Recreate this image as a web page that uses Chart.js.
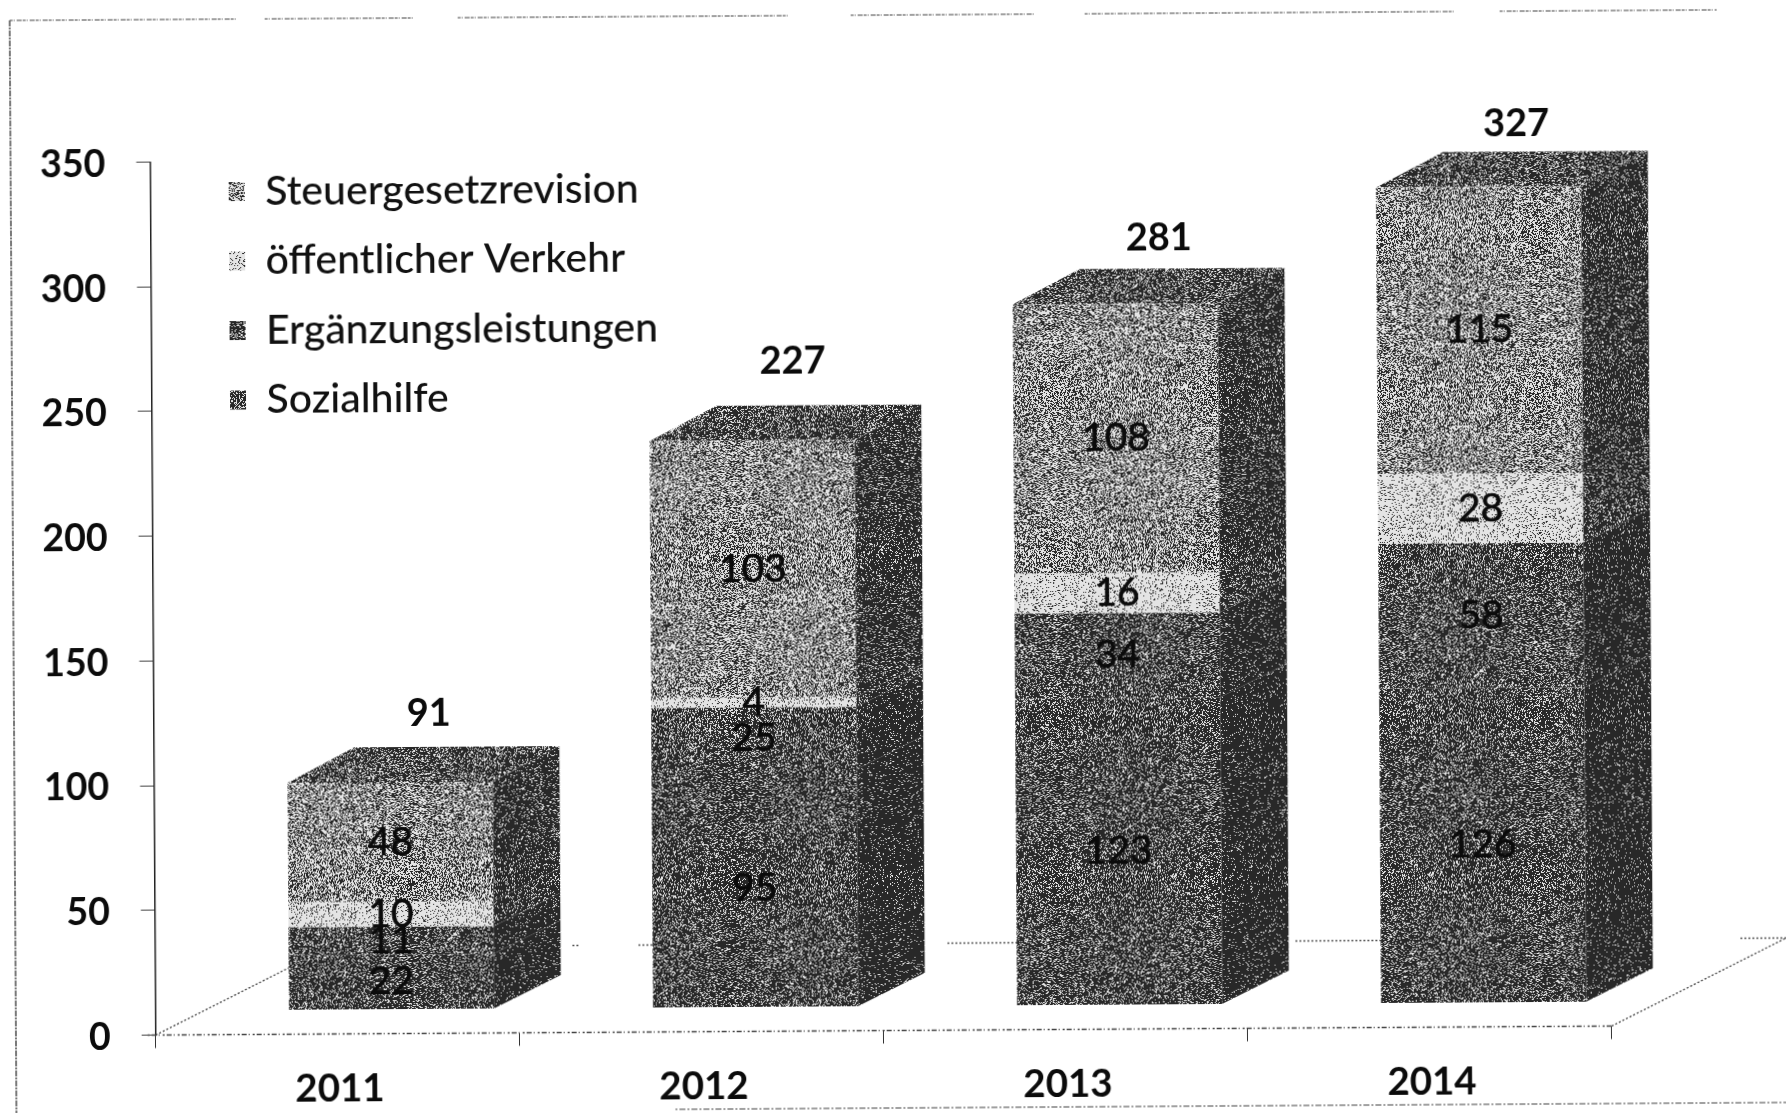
<!DOCTYPE html>
<html><head><meta charset="utf-8">
<style>
html,body{margin:0;padding:0;background:#fff;overflow:hidden;width:1786px;height:1113px}
canvas{display:block;transform:rotate(-0.355deg);transform-origin:893px 556.5px}
</style>
<script src="https://cdn.jsdelivr.net/npm/chart.js@4/dist/chart.umd.min.js"></script>
</head><body>
<canvas id="c" width="1786" height="1113"></canvas>
<script>
const years = ['2011','2012','2013','2014'];
const sozialhilfe = [22,95,123,126];
const ergaenzung = [11,25,34,58];
const verkehr = [10,4,16,28];
const steuer = [48,103,108,115];
const totals = [91,227,281,327];
const seriesNames = ['Sozialhilfe','Ergänzungsleistungen','öffentlicher Verkehr','Steuergesetzrevision'];
const seriesValues = [sozialhilfe,ergaenzung,verkehr,steuer];

// Look of the 3D scan
const frontGrey = [86,90,200,140];
const sideGrey = [56,58,76,70];
const topGrey = 92;
const floorLift = 9.8;
const barShift = 54;
const depthX = 67, depthY = -33, topExtra = -2;
const totalLift = [68,79,65,63];
const totalShift = [39,41,44,38];
const topRuns = [[13,240],[268,416],[461,792],[854,1037],[1088,1458],[1503,1720]];
const backRuns = [[570,578],[636,650],[945,1015],[1293,1380],[1738,1790]];
const FONT = 'Lato, Carlito, sans-serif';

function noisePattern(grey, seed){
  const n = 257, cv = document.createElement('canvas');
  cv.width = cv.height = n;
  const g = cv.getContext('2d'), im = g.createImageData(n,n);
  let s = seed >>> 0;
  const lo = 40, hi = 228, frac = (grey-lo)/(hi-lo);
  for(let i=0;i<n*n;i++){
    s = (Math.imul(s,1664525)+1013904223)>>>0;
    const v = ((s>>>8)&0xffff)/65535 < frac ? hi : lo;
    im.data[i*4]=im.data[i*4+1]=im.data[i*4+2]=v; im.data[i*4+3]=255;
  }
  g.putImageData(im,0,0);
  return document.getElementById('c').getContext('2d').createPattern(cv,'repeat');
}
const frontPat = frontGrey.map((g,i)=>noisePattern(g,101+i*37));
const sidePat = sideGrey.map((g,i)=>noisePattern(g,701+i*53));
const topPat = noisePattern(topGrey,1999);

let run = years.map(()=>floorLift);
const datasets = seriesNames.map((name,k)=>{
  const data = seriesValues[k].map((v,i)=>{const r=[run[i],run[i]+v]; run[i]+=v; return r;});
  return {label:name,data,backgroundColor:frontPat[k],borderWidth:0,grouped:false,
          barPercentage:1,categoryPercentage:0.563};
});

const cube = {
  id:'cube',
  afterDatasetsUpdate(chart){
    chart.data.datasets.forEach((d,k)=>chart.getDatasetMeta(k).data.forEach(el=>{el.x+=barShift;}));
    const L = chart.legend;
    L.left = 202.5; L.right = 720; L.top = 138.4; L.bottom = 470;
  },
  beforeDatasetsDraw(chart){
    const c = chart.ctx, a = chart.chartArea;
    const last = chart.data.datasets.length-1;
    c.save();
    // floor and back edge
    c.strokeStyle='#444'; c.lineWidth=1.3;
    c.setLineDash([2,2,5,2,1,3]);
    c.beginPath(); c.moveTo(a.left-8,a.bottom); c.lineTo(a.right,a.bottom); c.stroke();
    c.setLineDash([2,2]);
    c.beginPath(); c.moveTo(a.left,a.bottom); c.lineTo(a.left+175,a.bottom-87);
    c.moveTo(a.right,a.bottom); c.lineTo(a.right+175,a.bottom-87); c.stroke();
    c.strokeStyle='#555';
    c.beginPath();
    backRuns.forEach(r=>{c.moveTo(r[0],a.bottom-87); c.lineTo(r[1],a.bottom-87);});
    c.stroke();
    // scan frame
    c.strokeStyle='#222'; c.lineWidth=1.2; c.setLineDash([6,1,2,1]);
    c.beginPath(); c.moveTo(13,15); c.lineTo(13,1113); c.stroke();
    c.strokeStyle='#444'; c.setLineDash([3,1,1,2,5,1]);
    c.beginPath();
    topRuns.forEach(r=>{c.moveTo(r[0],15); c.lineTo(r[1],15);});
    c.stroke();
    c.setLineDash([2,2,6,2]);
    c.beginPath(); c.moveTo(672,1108); c.lineTo(1786,1108); c.stroke();
    c.setLineDash([]);
    // depth faces
    chart.data.datasets.forEach((d,k)=>{
      chart.getDatasetMeta(k).data.forEach(el=>{
        const r = el.x+el.width/2;
        const up = k===last ? topExtra : 0;
        c.fillStyle = sidePat[k];
        c.beginPath(); c.moveTo(r,el.y); c.lineTo(r+depthX,el.y+depthY+up);
        c.lineTo(r+depthX,el.base+depthY); c.lineTo(r,el.base); c.closePath(); c.fill();
        if(k===last){
          const l = el.x-el.width/2;
          c.fillStyle = topPat;
          c.beginPath(); c.moveTo(l,el.y); c.lineTo(l+depthX,el.y+depthY+up);
          c.lineTo(r+depthX,el.y+depthY+up); c.lineTo(r,el.y); c.closePath(); c.fill();
        }
      });
    });
    c.restore();
  },
  afterDatasetsDraw(chart){
    const c = chart.ctx;
    c.save();
    c.textAlign='center'; c.textBaseline='middle'; c.fillStyle='#0b0b0b';
    c.strokeStyle='#0b0b0b'; c.lineWidth=0.7;
    c.font = '39px '+FONT;
    seriesValues.forEach((vals,k)=>{
      chart.getDatasetMeta(k).data.forEach((el,i)=>{
        const t = String(vals[i]), y = (el.y+el.base)/2;
        c.fillText(t, el.x, y); c.strokeText(t, el.x, y);
      });
    });
    c.font = 'bold 38px '+FONT;
    chart.getDatasetMeta(seriesValues.length-1).data.forEach((el,i)=>{
      c.fillText(String(totals[i]), el.x+totalShift[i], el.y-totalLift[i]);
    });
    c.restore();
  }
};

new Chart(document.getElementById('c'),{
  type:'bar',
  data:{labels:years,datasets},
  plugins:[cube],
  options:{
    responsive:false,animation:false,
    layout:{padding:{left:10,top:157.5,right:177.2,bottom:0}},
    plugins:{
      tooltip:{enabled:false},
      legend:{
        display:true,position:'chartArea',align:'start',reverse:true,
        labels:{boxWidth:16,boxHeight:19,padding:28.5,color:'#111',font:{family:FONT,size:41,weight:'500'}}
      }
    },
    scales:{
      x:{
        offset:true,
        grid:{drawOnChartArea:false,drawTicks:true,tickLength:13,tickColor:'#333',offset:true},
        border:{display:false},
        ticks:{padding:19,labelOffset:2,color:'#0b0b0b',font:{family:FONT,size:38.5,weight:'bold'},maxRotation:0},
        afterFit(s){s.height=82.5;}
      },
      y:{
        min:0,max:350,
        grid:{drawOnChartArea:false,drawTicks:true,tickLength:14,tickColor:'#444'},
        border:{display:true,color:'#222',width:1.5},
        ticks:{stepSize:50,padding:31,labelOffset:2.3,color:'#0b0b0b',font:{family:FONT,size:37.5,weight:'bold'}},
        afterFit(s){s.width=142.7;}
      }
    }
  }
});
</script>
</body></html>
